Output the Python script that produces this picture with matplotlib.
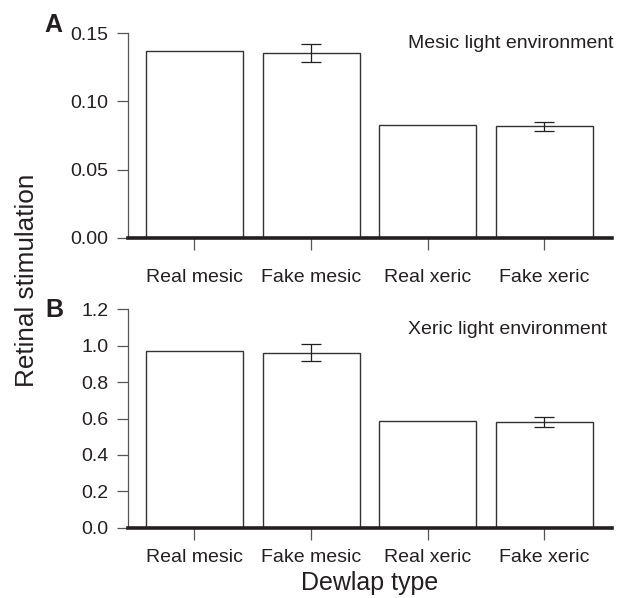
import numpy as np
import matplotlib
matplotlib.use("Agg")
import matplotlib.pyplot as plt

plt.rcParams['font.family'] = ['Liberation Sans', 'DejaVu Sans']

# datos
categorias = ["Real mesic", "Fake mesic", "Real xeric", "Fake xeric"]
mesic_vals = [0.1368, 0.1353, 0.0829, 0.0817]
mesic_err = [0.0, 0.0064, 0.0, 0.0035]
xeric_vals = [0.969, 0.962, 0.586, 0.582]
xeric_err = [0.0, 0.048, 0.0, 0.027]
mesic_ticks = [0.00, 0.05, 0.10, 0.15]
xeric_ticks = [0.0, 0.2, 0.4, 0.6, 0.8, 1.0, 1.2]

txt = "#231f20"
gris = "#555555"

fig = plt.figure(figsize=(6.23, 5.98), dpi=100)
W, H = 623.0, 598.0

def panel(rect, vals, errs, ticks, fmt, titulo, tx, ty, letra, lx, ly, xpad):
    ax = fig.add_axes(rect)
    x = np.arange(1, len(vals) + 1)
    ax.bar(x, vals, width=0.83, color="white", edgecolor="#333333", linewidth=1.0, zorder=2)
    idx = [i for i, e in enumerate(errs) if e > 0]
    ax.errorbar(x[idx], np.array(vals)[idx], yerr=np.array(errs)[idx], fmt="none",
                ecolor=txt, elinewidth=0.9, capsize=7, capthick=0.9, zorder=3)
    ax.set_xlim(0.43, 4.58)
    ax.set_ylim(ticks[0], ticks[-1])
    ax.set_yticks(ticks)
    ax.set_yticklabels([fmt % t for t in ticks])
    ax.set_xticks(x)
    ax.set_xticklabels(categorias)
    for s in ["top", "right"]:
        ax.spines[s].set_visible(False)
    ax.spines["left"].set_color(gris)
    ax.spines["left"].set_linewidth(0.9)
    ax.spines["bottom"].set_color(txt)
    ax.spines["bottom"].set_linewidth(2.6)
    ax.spines["bottom"].set_zorder(4)
    ax.tick_params(axis="y", direction="out", length=8, width=0.9, color=gris,
                   labelsize=14, labelcolor=txt, pad=6)
    ax.tick_params(axis="x", direction="out", length=8.5, width=0.9, color=gris,
                   labelsize=14, labelcolor=txt, pad=xpad)
    fig.text(tx / W, 1 - ty / H, titulo, ha="right", va="baseline", fontsize=14, color=txt)
    fig.text(lx / W, 1 - ly / H, letra, ha="left", va="baseline", fontsize=18,
             fontweight="bold", color=txt)
    return ax

ax1 = panel([128 / W, 1 - 238 / H, 484 / W, 205 / H], mesic_vals, mesic_err, mesic_ticks,
            "%.2f", "Mesic light environment", 613, 48, "A", 44, 32, 14)
ax2 = panel([128 / W, 1 - 527.7 / H, 484 / W, 218.4 / H], xeric_vals, xeric_err, xeric_ticks,
            "%.1f", "Xeric light environment", 607, 334, "B", 45, 317, 7)

fig.text(27 / W, 1 - 280.5 / H, "Retinal stimulation", rotation=90, ha="center", va="center",
         fontsize=18.8, color=txt)
fig.text(370 / W, 1 - 590 / H, "Dewlap type", ha="center", va="baseline", fontsize=18, color=txt)

fig.savefig("out.png", dpi=100)
